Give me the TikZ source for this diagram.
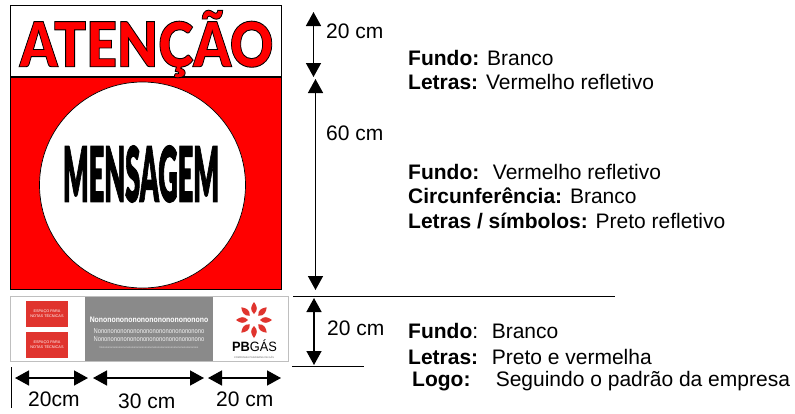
\documentclass[tikz,border=0pt]{standalone}
\usepackage{fontspec}
\setmainfont{Liberation Sans}
\newfontfamily\heavy{Lato Black}
\usetikzlibrary{arrows.meta}
\definecolor{signred}{RGB}{255,0,0}
\definecolor{logored}{RGB}{224,52,46}
\definecolor{panelgray}{RGB}{138,138,138}
\newcommand{\outlinetext}[2]{\special{pdf:code q 2 Tr #1 w 0 0 0 RG}#2\special{pdf:code Q}}
\tikzset{
  x=1pt,y=-1pt,
  dim/.style={draw=black,line width=1.5pt,{Triangle[length=14pt,width=15pt]}-{Triangle[length=14pt,width=15pt]}},
  lab/.style={font=\fontsize{21}{24}\selectfont,anchor=west,inner sep=0pt,align=left},
  panel/.style={inner sep=0pt,outer sep=0pt},
  rule/.style={draw=black,line width=1pt},
  petal/.style={fill=logored,draw=none},
}
\begin{document}
\begin{tikzpicture}
\useasboundingbox (0,0) rectangle (795,413);
% sign
\node[panel,draw=black,line width=.8pt,fill=white,minimum width=271pt,minimum height=71pt,anchor=north west] (top) at (10.5,5.5) {};
\node[panel,draw=black,line width=.8pt,fill=signred,minimum width=271pt,minimum height=212pt,anchor=north west] (mid) at (10.5,77) {};
\node[draw=black,line width=.7pt,fill=white,circle,minimum size=206pt,inner sep=0pt] (circ) at (142.5,185) {};
\node[inner sep=0pt,text=signred,font=\heavy\fontsize{62}{62}\selectfont,xscale=.86] (aten) at (146.5,44) {\outlinetext{.9}{ATENÇÃO}};
\node[inner sep=0pt,font=\heavy\fontsize{38}{38}\selectfont,xscale=.71,yscale=2.0] (msg) at (141,174) {\outlinetext{.8}{MENSAGEM}};
% bottom strip
\node[panel,draw=black!25,line width=1pt,fill=white,minimum width=278pt,minimum height=65pt,anchor=north west] (strip) at (10,296.5) {};
\node[panel,fill=panelgray,minimum width=128pt,minimum height=64pt,anchor=north west] (gray) at (85,297) {};
\node[panel,fill=logored,minimum width=42pt,minimum height=26pt,text=white,font=\fontsize{3.8}{5}\selectfont,align=center] (r1) at (47,314) {ESPAÇO PARA\\NOTAS TÉCNICAS};
\node[panel,fill=logored,minimum width=42pt,minimum height=26pt,text=white,font=\fontsize{3.8}{5}\selectfont,align=center] (r2) at (47,345) {ESPAÇO PARA\\NOTAS TÉCNICAS};
\node[inner sep=0pt,text=white,font=\bfseries\fontsize{8}{8}\selectfont,xscale=.86] (g1) at (149,320) {Nononononononononononononono};
\node[inner sep=0pt,text=white!90!gray,font=\fontsize{7}{7}\selectfont,xscale=.83] (g2) at (149,331) {Nonononononononononononononononono};
\node[inner sep=0pt,text=white!90!gray,font=\fontsize{7}{7}\selectfont,xscale=.83] (g3) at (149,339) {Nonononononononononononononononono};
\node[inner sep=0pt,text=white!80!gray,font=\fontsize{2.6}{3}\selectfont] (g4) at (149,348) {Nononononononononononononononononononononononononononononononononono};
\coordinate (lc) at (254,320);
\foreach \a in {0,45,...,315}
  \fill[petal,shift={(lc)},rotate=\a] (0,-6) .. controls (4.5,-10) and (3,-14) .. (0,-18) .. controls (-3,-14) and (-4.5,-10) .. (0,-6) -- cycle;
\node[inner sep=0pt,font=\fontsize{13.5}{13}\selectfont,xscale=.95] (pb) at (254.5,345.5) {\textbf{PB}GÁS};
\node[inner sep=0pt,font=\fontsize{2.5}{2}\selectfont,text=black!60] (pbsub) at (254,357) {COMPANHIA PARAIBANA DE GÁS};
% rules
\coordinate (r1a) at (293,296.5); \coordinate (r1b) at (615,296.5);
\coordinate (r2a) at (292,366); \coordinate (r2b) at (364,366);
\draw[rule] (r1a) -- (r1b);
\draw[rule] (r2a) -- (r2b);
\coordinate (v0) at (11.5,367); \coordinate (v1) at (11.5,408);
\draw[rule] (v0) -- (v1);
% vertical dims
\coordinate (a1) at (313.5,12); \coordinate (a2) at (313.5,77);
\coordinate (b1) at (315.5,79); \coordinate (b2) at (315.5,290);
\coordinate (c1) at (314,298); \coordinate (c2) at (314,365);
\draw[dim] (a1) -- (a2);
\draw[dim] (b1) -- (b2);
\draw[dim] (c1) -- (c2);
% horizontal dims
\coordinate (d1) at (15,378); \coordinate (d2) at (88,378);
\coordinate (e1) at (93,378); \coordinate (e2) at (204,378);
\coordinate (f1) at (208,378); \coordinate (f2) at (281,378);
\draw[dim] (d1) -- (d2);
\draw[dim] (e1) -- (e2);
\draw[dim] (f1) -- (f2);
% labels
\node[lab] (t1) at (326,31) {20 cm};
\node[lab] (t2) at (326,133) {60 cm};
\node[lab] (t3) at (327,328) {20 cm};
\node[lab] (t4) at (28,399) {20cm};
\node[lab] (t5) at (118,401) {30 cm};
\node[lab] (t6) at (216,399) {20 cm};
\node[lab] (f1a) at (408,58) {\textbf{Fundo:} Branco};
\node[lab] (f1b) at (408,82) {\textbf{Letras:} Vermelho refletivo};
\node[lab] (f2a) at (408,172) {\textbf{Fundo:}~ Vermelho refletivo};
\node[lab] (f2b) at (408,196) {\textbf{Circunferência:} Branco};
\node[lab] (f2c) at (408,221) {\textbf{Letras / símbolos:} Preto refletivo};
\node[lab] (f3a) at (408,331) {\textbf{Fundo}:~ Branco};
\node[lab] (f3b) at (408,357) {\textbf{Letras:}~ Preto e vermelha};
\node[lab] (f3c) at (412,381) {\textbf{Logo:}~~~ Seguindo o padrão da empresa};
\end{tikzpicture}
\end{document}
